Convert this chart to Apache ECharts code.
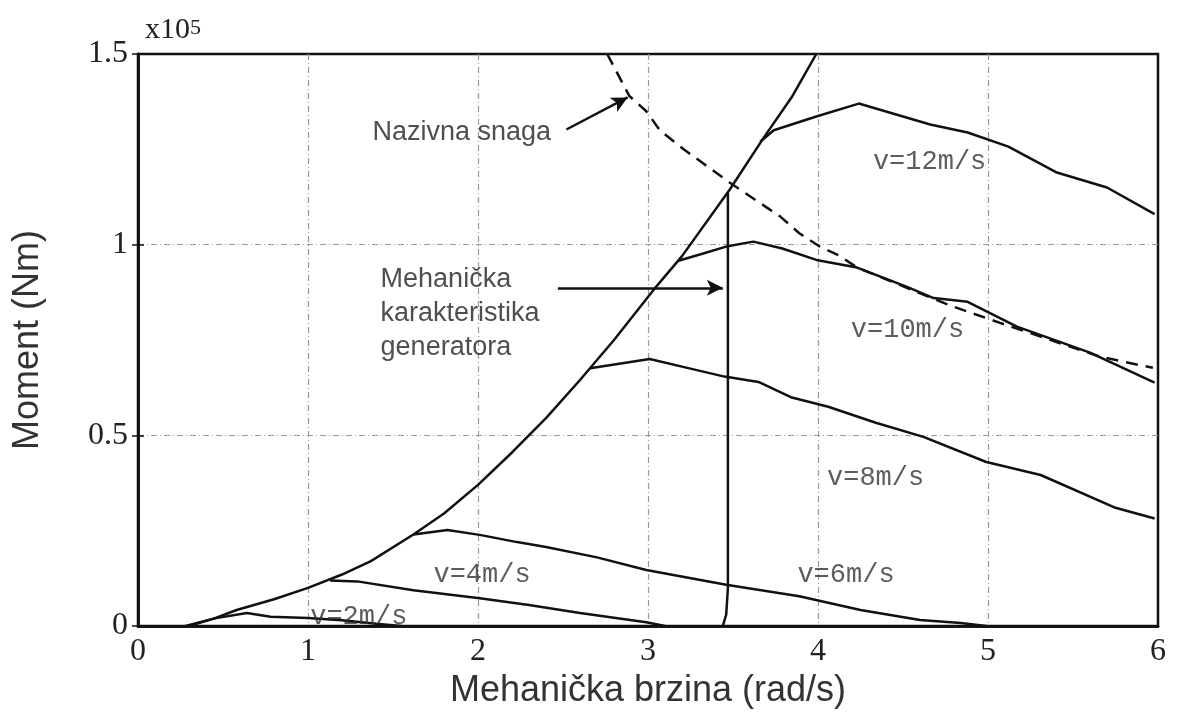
<!DOCTYPE html>
<html>
<head>
<meta charset="utf-8">
<script src="https://cdn.jsdelivr.net/npm/echarts@6/dist/echarts.min.js"></script>
<style>html,body{margin:0;padding:0;background:#fff;}#c{width:1177px;height:717px;}</style>
</head>
<body>
<div id="c"></div>
<script>
// Axis ticks
const xTicks = [0, 1, 2, 3, 4, 5, 6];
const yTicks = [0, 0.5, 1, 1.5];

// Generator mechanical characteristic (x: rad/s, y: Nm x10^5)
const generator = [[0.28,0],[0.45,0.02],[0.58,0.042],[0.8,0.07],[1.0,0.10],[1.2,0.135],[1.37,0.17],[1.62,0.24],[1.8,0.295],[2.0,0.37],[2.2,0.455],[2.4,0.545],[2.6,0.645],[2.8,0.75],[3.03,0.88],[3.2,0.97],[3.48,1.144],[3.68,1.28],[3.85,1.39],[3.99,1.5]];
// Vertical limit line
const limitLine = [[3.44,0],[3.46,0.03],[3.47,0.1],[3.47,1.137]];
// Rated power (dashed)
const ratedPower = [[2.76,1.5],[2.89,1.39],[2.99,1.35],[3.07,1.30],[3.21,1.25],[3.48,1.163],[3.78,1.073],[3.89,1.03],[4.01,0.995],[4.13,0.97],[4.23,0.94],[4.78,0.84],[5.07,0.795],[5.66,0.706],[5.97,0.677]];
// Wind turbine torque curves
const v2 = [[0.3,0],[0.45,0.02],[0.64,0.034],[0.78,0.024],[1.0,0.021],[1.2,0.015],[1.4,0.006],[1.55,0]];
const v4 = [[1.13,0.119],[1.29,0.117],[1.62,0.094],[2.01,0.073],[2.3,0.055],[2.6,0.034],[2.99,0.01],[3.1,0]];
const v6 = [[1.62,0.24],[1.82,0.252],[2.01,0.239],[2.23,0.22],[2.4,0.207],[2.7,0.18],[2.99,0.147],[3.46,0.108],[3.89,0.078],[4.25,0.042],[4.6,0.016],[4.84,0.008],[4.99,0]];
const v8 = [[2.66,0.676],[3.01,0.70],[3.25,0.675],[3.45,0.654],[3.65,0.64],[3.84,0.60],[4.06,0.575],[4.34,0.533],[4.62,0.496],[4.99,0.43],[5.31,0.396],[5.75,0.31],[5.98,0.282]];
const v10 = [[3.18,0.958],[3.31,0.975],[3.46,0.995],[3.62,1.008],[3.79,0.99],[3.99,0.96],[4.23,0.94],[4.52,0.89],[4.68,0.86],[4.88,0.85],[5.17,0.785],[5.6,0.717],[5.98,0.638]];
const v12 = [[3.66,1.27],[3.74,1.30],[3.99,1.336],[4.24,1.37],[4.66,1.315],[4.88,1.294],[5.12,1.257],[5.4,1.19],[5.7,1.15],[5.98,1.08]];

// Curve labels: [x, y, text]
const curveLabels = [[4.32,1.218,'v=12m/s'],[4.19,0.777,'v=10m/s'],[4.05,0.388,'v=8m/s'],[3.876,0.134,'v=6m/s'],[1.735,0.134,'v=4m/s'],[1.01,0.024,'v=2m/s']];
// Annotation texts: [x, y, text]
const notes = [[1.376,1.294,'Nazivna snaga'],[1.424,0.819,'Mehanička\nkarakteristika\ngeneratora']];
// Annotation arrows: [[x1,y1],[x2,y2]]
const arrows = [[[2.52,1.302],[2.88,1.386]],[[2.47,0.887],[3.44,0.887]]];

const chart = echarts.init(document.getElementById('c'));
const lineColor = '#111';
function curve(name, data, dashed) {
  return {
    name: name, type: 'line', data: data, symbol: 'none', smooth: false,
    lineStyle: { color: lineColor, width: 2.5, type: dashed ? [12, 8] : 'solid' },
    z: 3, silent: true
  };
}
const series = [
  curve('generator', generator),
  curve('limit', limitLine),
  curve('rated', ratedPower, true),
  curve('v2', v2), curve('v4', v4), curve('v6', v6),
  curve('v8', v8), curve('v10', v10), curve('v12', v12),
  {
    type: 'scatter', symbolSize: 1, itemStyle: { color: 'rgba(0,0,0,0)' }, z: 5, silent: true,
    data: curveLabels.map(d => ({ value: [d[0], d[1]], label: { formatter: d[2] } })),
    label: { show: true, position: 'right', distance: 0, fontFamily: 'Liberation Mono', fontSize: 27, color: '#333' }
  },
  {
    type: 'scatter', symbolSize: 1, itemStyle: { color: 'rgba(0,0,0,0)' }, z: 5, silent: true,
    data: notes.map(d => ({ value: [d[0], d[1]], label: { formatter: d[2] } })),
    label: { show: true, position: 'right', distance: 0, fontFamily: 'Liberation Sans', fontSize: 27, lineHeight: 34, color: '#222', align: 'left' }
  },
  {
    type: 'line', data: [], silent: true,
    markLine: {
      silent: true, symbol: ['none', 'arrow'], symbolSize: [12, 16], animation: false,
      lineStyle: { color: lineColor, width: 2.5, type: 'solid' },
      label: { show: false },
      data: arrows.map(a => [{ coord: a[0] }, { coord: a[1] }])
    }
  }
];

const gridLine = { show: true, showMinLine: false, showMaxLine: false, lineStyle: { color: '#999', width: 1.2, type: [6, 3, 1, 3] } };
chart.setOption({
  animation: false,
  backgroundColor: '#fff',
  grid: { left: 138, right: 19, top: 54, bottom: 91, show: true, borderColor: '#111', borderWidth: 2.5, backgroundColor: 'transparent' },
  title: {
    text: '{a|x10}{b|5}', left: 140, top: 10,
    textStyle: { fontWeight: 'normal', rich: {
      a: { fontFamily: 'Liberation Serif', fontSize: 30, color: '#222', fontWeight: 'normal' },
      b: { fontFamily: 'Liberation Serif', fontSize: 22, color: '#222', fontWeight: 'normal', verticalAlign: 'bottom', padding: [0, 0, 6, 0] }
    } }
  },
  xAxis: [{
    type: 'value', min: xTicks[0], max: xTicks[xTicks.length - 1], interval: 1,
    name: 'Mehanička brzina (rad/s)', nameLocation: 'middle', nameGap: 44,
    nameTextStyle: { fontFamily: 'Liberation Sans', fontSize: 36, color: '#333' },
    axisLine: { show: true, lineStyle: { color: '#111', width: 2.5 } },
    axisTick: { show: false },
    axisLabel: { fontFamily: 'Liberation Serif', fontSize: 32, color: '#222', margin: 10 },
    splitLine: gridLine
  }, {
    type: 'value', position: 'top', min: 0, max: 6, interval: 1,
    axisLine: { show: true, lineStyle: { color: '#111', width: 2.5 } },
    axisTick: { show: false }, axisLabel: { show: false }, splitLine: { show: false }
  }],
  yAxis: [{
    type: 'value', min: yTicks[0], max: yTicks[yTicks.length - 1], interval: 0.5,
    name: 'Moment (Nm)', nameLocation: 'middle', nameGap: 92, nameRotate: 90,
    nameTextStyle: { fontFamily: 'Liberation Sans', fontSize: 36, color: '#333' },
    axisLine: { show: true, lineStyle: { color: '#111', width: 2.5 } },
    axisTick: { show: true, inside: true, length: 6, lineStyle: { color: '#111', width: 1.5 } },
    axisLabel: { fontFamily: 'Liberation Serif', fontSize: 32, color: '#222', margin: 10 },
    splitLine: gridLine
  }, {
    type: 'value', position: 'right', min: 0, max: 1.5, interval: 0.5,
    axisLine: { show: true, lineStyle: { color: '#111', width: 2.5 } },
    axisTick: { show: true, inside: true, length: 6, lineStyle: { color: '#111', width: 1.5 } },
    axisLabel: { show: false }, splitLine: { show: false }
  }],
  series: series
});
</script>
</body>
</html>
